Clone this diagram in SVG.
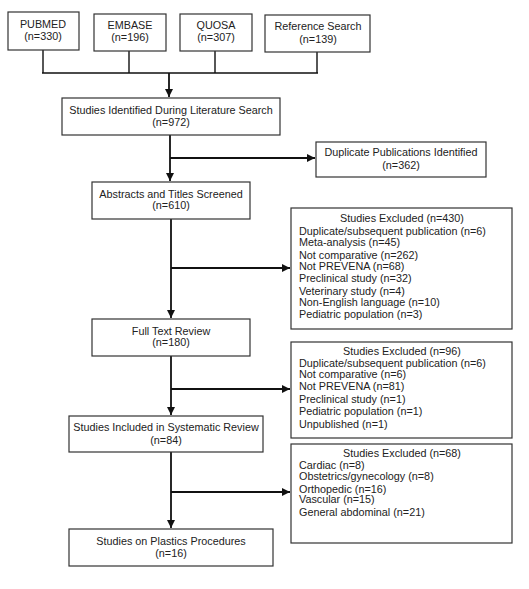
<svg xmlns="http://www.w3.org/2000/svg" width="529" height="589" viewBox="0 0 529 589">
<style>
.box{fill:#fff;stroke:#333;stroke-width:1.2}
text{font-family:"Liberation Sans",Arial,sans-serif;font-size:10.8px;fill:#222}
.c{text-anchor:middle}
.ln{fill:none;stroke:#111;stroke-width:1.8}
.thin{fill:none;stroke:#111;stroke-width:1.4}
</style>
<defs>
<marker id="ah" viewBox="0 0 8 8" refX="8" refY="4" markerWidth="4.5" markerHeight="4.5" orient="auto" markerUnits="strokeWidth">
<path d="M0,0 L8,4 L0,8 Z" fill="#111"/>
</marker>
</defs>
<rect width="529" height="589" fill="#fff"/>
<g id="connectors">
<path class="thin" d="M43,50 V73 M129,51 V73 M215,51 V73 M317,52 V73 M42,73 H318"/>
<path class="ln" d="M169,73 V97" marker-end="url(#ah)"/>
<path class="ln" d="M170,135 V181" marker-end="url(#ah)"/>
<path class="ln" d="M170,158 H315" marker-end="url(#ah)"/>
<path class="ln" d="M171,219 V318" marker-end="url(#ah)"/>
<path class="ln" d="M171,268 H290" marker-end="url(#ah)"/>
<path class="ln" d="M171,356 V415" marker-end="url(#ah)"/>
<path class="ln" d="M171,389 H290" marker-end="url(#ah)"/>
<path class="ln" d="M171,452 V528" marker-end="url(#ah)"/>
<path class="ln" d="M171,492 H290" marker-end="url(#ah)"/>
</g>
<g id="pubmed"><rect class="box" x="8" y="12" width="71" height="38"/><text class="c" x="43" y="28">PUBMED</text><text class="c" x="43" y="40">(n=330)</text></g>
<g id="embase"><rect class="box" x="94" y="14" width="72" height="37"/><text class="c" x="130" y="29">EMBASE</text><text class="c" x="130" y="41">(n=196)</text></g>
<g id="quosa"><rect class="box" x="180" y="14" width="72" height="37"/><text class="c" x="216" y="29">QUOSA</text><text class="c" x="216" y="41">(n=307)</text></g>
<g id="refsearch"><rect class="box" x="265" y="15" width="105" height="37"/><text class="c" x="318" y="30">Reference Search</text><text class="c" x="318" y="42.5">(n=139)</text></g>
<g id="identified"><rect class="box" x="62" y="98" width="218" height="37"/><text class="c" x="171" y="113.5">Studies Identified During Literature Search</text><text class="c" x="171" y="125.5">(n=972)</text></g>
<g id="duplicates"><rect class="box" x="316" y="142" width="170" height="35"/><text class="c" x="401" y="156">Duplicate Publications Identified</text><text class="c" x="401" y="169">(n=362)</text></g>
<g id="abstracts"><rect class="box" x="92" y="182" width="158" height="37"/><text class="c" x="171" y="197.5">Abstracts and Titles Screened</text><text class="c" x="171" y="209">(n=610)</text></g>
<g id="excluded430"><rect class="box" x="291" y="208" width="221" height="121"/>
<text class="c" x="402" y="221.5">Studies Excluded (n=430)</text>
<text x="299" y="234.5">Duplicate/subsequent publication (n=6)</text>
<text x="299" y="245.5">Meta-analysis (n=45)</text>
<text x="299" y="258.5">Not comparative (n=262)</text>
<text x="299" y="269.5">Not PREVENA (n=68)</text>
<text x="299" y="281.5">Preclinical study (n=32)</text>
<text x="299" y="294.5">Veterinary study (n=4)</text>
<text x="299" y="305.5">Non-English language (n=10)</text>
<text x="299" y="317.5">Pediatric population (n=3)</text>
</g>
<g id="fulltext"><rect class="box" x="92" y="319" width="158" height="37"/><text class="c" x="171" y="334.5">Full Text Review</text><text class="c" x="171" y="346">(n=180)</text></g>
<g id="excluded96"><rect class="box" x="291" y="342" width="221" height="96"/>
<text class="c" x="402" y="354.5">Studies Excluded (n=96)</text>
<text x="299" y="366.5">Duplicate/subsequent publication (n=6)</text>
<text x="299" y="378">Not comparative (n=6)</text>
<text x="299" y="389.5">Not PREVENA (n=81)</text>
<text x="299" y="402.5">Preclinical study (n=1)</text>
<text x="299" y="414.5">Pediatric population (n=1)</text>
<text x="299" y="427.5">Unpublished (n=1)</text>
</g>
<g id="systematic"><rect class="box" x="69" y="416" width="194" height="36"/><text class="c" x="166" y="431">Studies Included in Systematic Review</text><text class="c" x="166" y="443.5">(n=84)</text></g>
<g id="excluded68"><rect class="box" x="291" y="444" width="221" height="99"/>
<text class="c" x="402" y="456.5">Studies Excluded (n=68)</text>
<text x="299" y="469">Cardiac (n=8)</text>
<text x="299" y="480">Obstetrics/gynecology (n=8)</text>
<text x="299" y="492.5">Orthopedic (n=16)</text>
<text x="299" y="503">Vascular (n=15)</text>
<text x="299" y="515.5">General abdominal (n=21)</text>
</g>
<g id="plastics"><rect class="box" x="69" y="529" width="204" height="37"/><text class="c" x="171" y="545">Studies on Plastics Procedures</text><text class="c" x="171" y="556.5">(n=16)</text></g>
</svg>
